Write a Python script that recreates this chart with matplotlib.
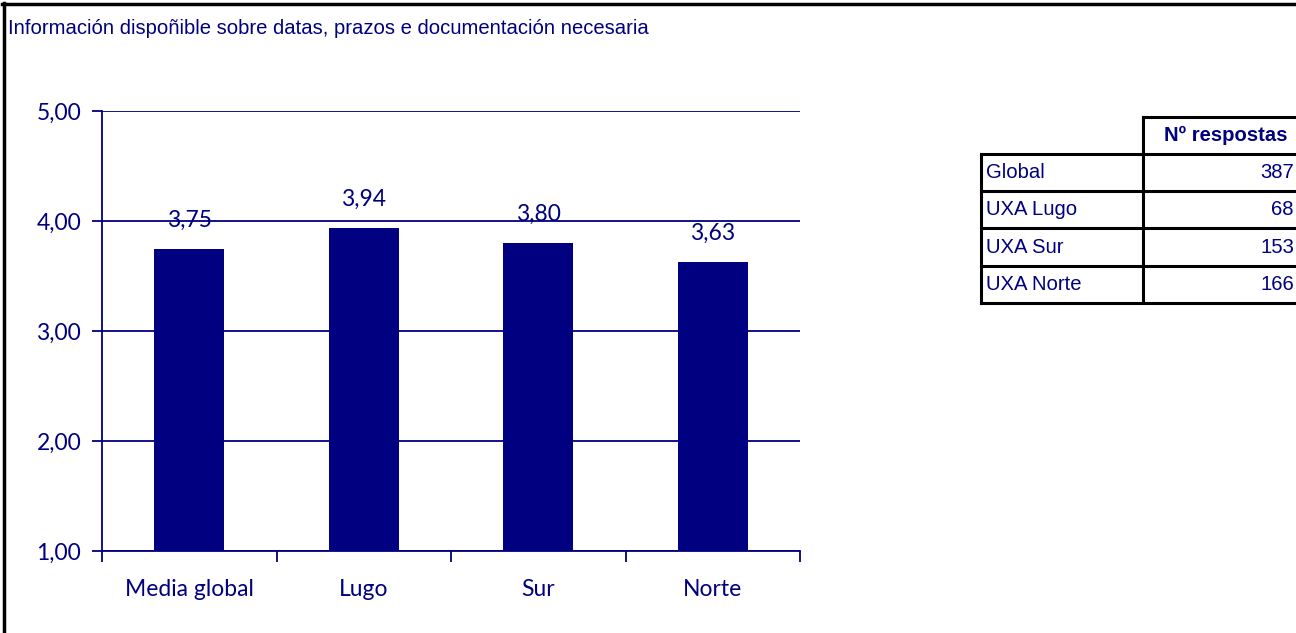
import matplotlib.pyplot as plt
from matplotlib.lines import Line2D

categories = ["Media global", "Lugo", "Sur", "Norte"]
values = [3.75, 3.94, 3.80, 3.63]
value_labels = ["3,75", "3,94", "3,80", "3,63"]
yticks = [1, 2, 3, 4, 5]
ytick_labels = ["1,00", "2,00", "3,00", "4,00", "5,00"]

table_rows = ["Global", "UXA Lugo", "UXA Sur", "UXA Norte"]
table_counts = ["387", "68", "153", "166"]
table_header = "Nº respostas"

title = "Información dispoñible sobre datas, prazos e documentación necesaria"

navy = "#000080"
W, H = 1296, 633

fig = plt.figure(figsize=(W / 100, H / 100), dpi=100)


def fx(px):
    return px / W


def fy(py):
    return 1 - py / H


# outer frame (left and top only are visible)
fig.add_artist(Line2D([fx(4), fx(4)], [fy(3), 0], color="black", lw=2.5))
fig.add_artist(Line2D([fx(2), 1], [fy(4), fy(4)], color="black", lw=2.5))

fig.text(fx(8), fy(28), title, color=navy, fontsize=14.6,
         family="Liberation Sans", va="center", ha="left")

ax = fig.add_axes([fx(102), fy(551), fx(800) - fx(102), fy(111) - fy(551)])
x = range(len(categories))
bars = ax.bar(x, values, width=0.4, color=navy, zorder=3)
ax.set_xlim(-0.5, len(categories) - 0.5)
ax.set_ylim(1, 5)

ax.set_yticks(yticks)
ax.set_yticklabels(ytick_labels)
ax.set_xticks([i - 0.5 for i in range(len(categories) + 1)])
ax.set_xticklabels([])
ax.set_xticks(list(x), minor=True)
ax.set_xticklabels(categories, minor=True)
ax.tick_params(axis="x", which="minor", length=0, pad=20)
ax.tick_params(axis="x", which="major", length=8, width=1.3, color=navy, direction="out")
ax.tick_params(axis="y", length=7, width=1.3, color=navy, direction="out", pad=8)
for lab in ax.get_xticklabels(minor=True) + ax.get_yticklabels():
    lab.set_family("Lato")
    lab.set_fontsize(16.5)
    lab.set_color(navy)

ax.grid(axis="y", color=navy, lw=1.3, zorder=1)
for s in ["top", "right"]:
    ax.spines[s].set_visible(False)
for s in ["left", "bottom"]:
    ax.spines[s].set_color(navy)
    ax.spines[s].set_linewidth(1.3)
    ax.spines[s].set_zorder(4)

for b, lab in zip(bars, value_labels):
    ax.annotate(lab, (b.get_x() + b.get_width() / 2, b.get_height()),
                xytext=(0, 13), textcoords="offset points", ha="center",
                va="bottom", color=navy, fontsize=16.5, family="Lato", zorder=5)

# response count table on the right, partly cut by the figure edge
left, mid, right = 981, 1143, 1312
top, head_bot = 117, 154
row_h = 37.2
lw = 2.2
rows_bottom = head_bot + row_h * len(table_rows)
fig.add_artist(Line2D([fx(mid), fx(right)], [fy(top), fy(top)], color="black", lw=lw))
fig.add_artist(Line2D([fx(mid), fx(mid)], [fy(top), fy(rows_bottom)], color="black", lw=lw))
fig.add_artist(Line2D([fx(left), fx(left)], [fy(head_bot), fy(rows_bottom)], color="black", lw=lw))
for i in range(len(table_rows) + 1):
    yy = head_bot + row_h * i
    fig.add_artist(Line2D([fx(left), fx(right)], [fy(yy), fy(yy)], color="black", lw=lw))
fig.text(fx(1226), fy((top + head_bot) / 2), table_header, color=navy,
         fontsize=14.6, fontweight="bold", family="Liberation Sans", ha="center", va="center")
for i, (name, n) in enumerate(zip(table_rows, table_counts)):
    yc = head_bot + row_h * (i + 0.5)
    fig.text(fx(left + 5), fy(yc), name, color=navy, fontsize=14.6,
             family="Liberation Sans", ha="left", va="center")
    fig.text(fx(1294), fy(yc), n, color=navy, fontsize=14.6,
             family="Liberation Sans", ha="right", va="center")

fig.savefig("out.png", dpi=100)
